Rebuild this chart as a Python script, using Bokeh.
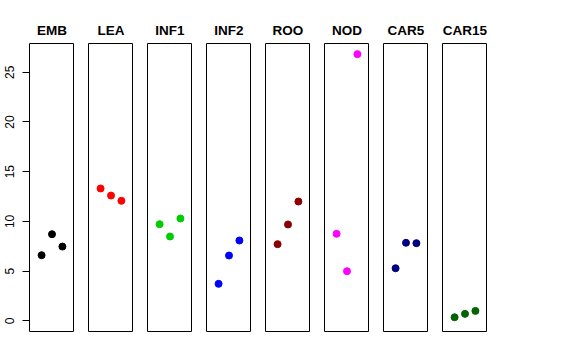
from bokeh.plotting import figure
from bokeh.layouts import row
from bokeh.models import Range1d, FixedTicker, ColumnDataSource
from bokeh.embed import file_html
from bokeh.resources import INLINE

groups = ["EMB", "LEA", "INF1", "INF2", "ROO", "NOD", "CAR5", "CAR15"]
colors = ["black", "red", "#00CD00", "blue", "#8B0000", "magenta", "#000080", "#006400"]
xpos = [1, 2, 3]
emb = [6.60, 8.71, 7.47]
lea = [13.31, 12.60, 12.07]
inf1 = [9.72, 8.48, 10.29]
inf2 = [3.72, 6.57, 8.08]
roo = [7.71, 9.69, 12.00]
nod = [8.75, 4.99, 26.82]
car5 = [5.29, 7.85, 7.81]
car15 = [0.36, 0.70, 1.00]
yticks = [0, 5, 10, 15, 20, 25]

series = [emb, lea, inf1, inf2, roo, nod, car5, car15]

FONT = "Liberation Sans"
figs = []
for i, (name, vals, col) in enumerate(zip(groups, series, colors)):
    p = figure(
        output_backend="svg", toolbar_location=None,
        frame_width=45, frame_height=288,
        x_range=Range1d(-0.16, 4.16), y_range=Range1d(-1.073, 27.89),
        x_axis_type=None,
        y_axis_type="linear" if i == 0 else None,
        min_border_left=29 if i == 0 else 0, min_border_right=0,
        min_border_top=43, min_border_bottom=20,
        title=name,
    )
    p.title.align = "center"
    p.title.text_font = FONT
    p.title.text_font_style = "bold"
    p.title.text_font_size = "13.5px"
    p.title.text_color = "black"
    p.title.standoff = 11
    p.grid.visible = False
    p.outline_line_color = "black"
    p.outline_line_width = 1
    p.background_fill_color = "white"
    p.border_fill_color = "white"
    if i == 0:
        ax = p.yaxis[0]
        ax.ticker = FixedTicker(ticks=yticks)
        ax.axis_line_color = None
        ax.major_tick_out = 7
        ax.major_tick_in = 0
        ax.minor_tick_out = 0
        ax.minor_tick_in = 0
        ax.major_tick_line_color = "black"
        ax.major_label_orientation = "vertical"
        ax.major_label_text_font = FONT
        ax.major_label_text_font_size = "12px"
        ax.major_label_text_color = "black"
        ax.major_label_standoff = 8
    src = ColumnDataSource(dict(x=xpos, y=vals))
    p.scatter("x", "y", source=src, size=7, color=col)
    figs.append(p)

layout = row(*figs, spacing=14)
open("out.html", "w").write(file_html(layout, INLINE))
